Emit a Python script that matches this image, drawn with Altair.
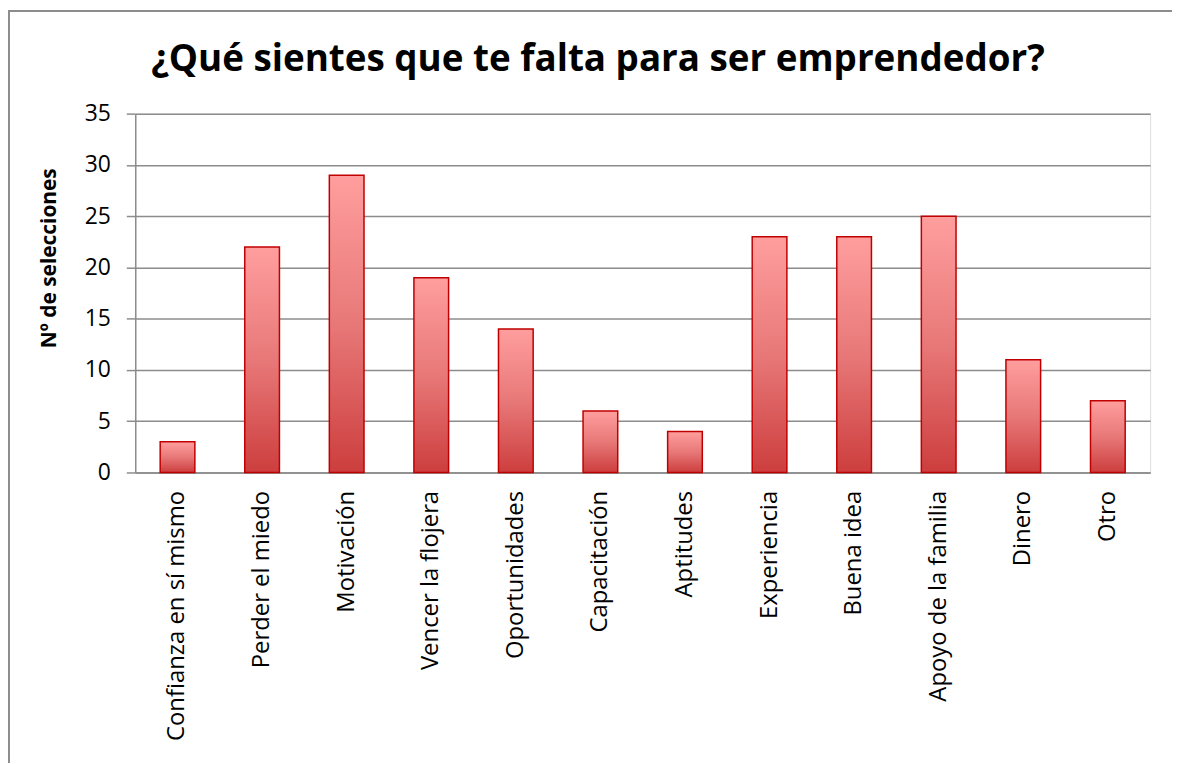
import altair as alt
import pandas as pd

categories = ["Confianza en sí mismo", "Perder el miedo", "Motivación", "Vencer la flojera",
              "Oportunidades", "Capacitación", "Aptitudes", "Experiencia", "Buena idea",
              "Apoyo de la familia", "Dinero", "Otro"]
values = [3, 22, 29, 19, 14, 6, 4, 23, 23, 25, 11, 7]
y_ticks = [0, 5, 10, 15, 20, 25, 30, 35]

df = pd.DataFrame({"categoria": categories, "valor": values})

W, H = 1021, 361
FONT = "Open Sans"

gradient = alt.Gradient(
    gradient="linear", x1=0, y1=0, x2=0, y2=1,
    stops=[alt.GradientStop(color="#FF9E9E", offset=0),
           alt.GradientStop(color="#E87878", offset=0.5),
           alt.GradientStop(color="#CD3E3E", offset=1)],
)

frame = alt.Chart(df).mark_rect(filled=False, fillOpacity=0, stroke="#8c8c8c", strokeWidth=1.5).encode(
    x=alt.value(-127.5), x2=alt.value(W + 200),
    y=alt.value(-103.5), y2=alt.value(H + 500),
)

bars = alt.Chart(df).mark_bar(fill=gradient, stroke="#C00000", strokeWidth=1.5).encode(
    x=alt.X("categoria:N", sort=categories,
            scale=alt.Scale(paddingInner=0.59, paddingOuter=0.295),
            axis=alt.Axis(title=None, labelAngle=270, labelAlign="right", labelBaseline="middle",
                          labelPadding=18, ticks=False, domain=True, domainColor="#8c8c8c",
                          domainWidth=1.5, labelFont=FONT, labelFontSize=24, labelColor="black",
                          labelLimit=400)),
    y=alt.Y("valor:Q", scale=alt.Scale(domain=[0, 35], nice=False),
            axis=alt.Axis(title="Nº de selecciones", values=y_ticks, tickSize=9, tickColor="#8c8c8c",
                          tickWidth=1.5, domainColor="#8c8c8c", domainWidth=1.5,
                          gridColor="#8c8c8c", gridWidth=1.5, labelPadding=16,
                          labelFont=FONT, labelFontSize=23, labelColor="black",
                          titleFont=FONT, titleFontSize=21, titleFontWeight="bold", titleColor="black",
                          titleAngle=270, titleX=-86, titleY=145, titleAlign="center",
                          titleBaseline="middle")),
)

chart = alt.layer(frame, bars).properties(
    width=W, height=H,
    title=alt.TitleParams("¿Qué sientes que te falta para ser emprendedor?", font=FONT,
                          fontSize=37, fontWeight="bold", color="black", anchor="middle",
                          frame="group", dx=-45, offset=-69),
    autosize=alt.AutoSizeParams(type="none"),
    padding={"left": 128, "top": 104, "right": 22, "bottom": 290},
).configure_view(stroke=None).configure(background="white")

chart.save("out.html", embed_options={"renderer": "svg", "actions": False})
